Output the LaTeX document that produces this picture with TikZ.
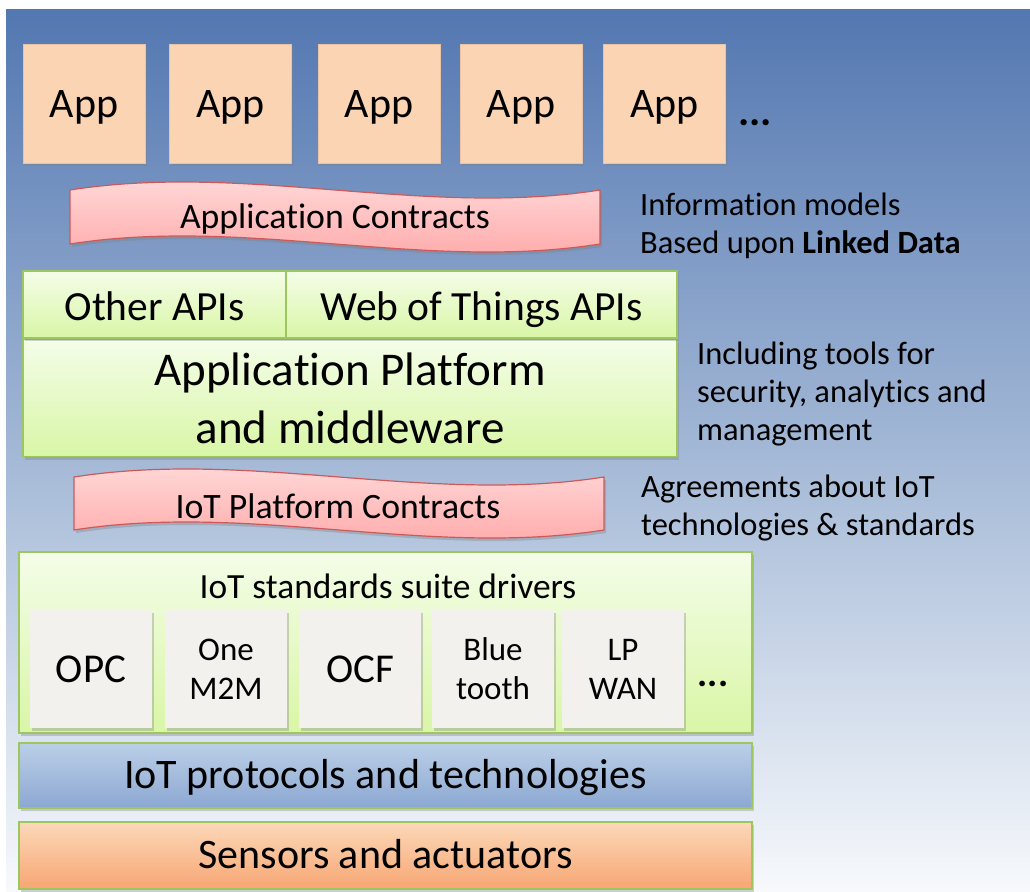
\documentclass[tikz,border=0pt]{standalone}
\usepackage{fontspec}
\setmainfont{Carlito}[Ligatures=NoCommon]
\usetikzlibrary{shadows}
\definecolor{bgtop}{HTML}{5377B1}
\definecolor{bgmid}{HTML}{A3B8D6}
\definecolor{bgbot}{HTML}{F7F9FC}
\definecolor{appfill}{HTML}{FBD4B4}
\definecolor{appline}{HTML}{E9C3A3}
\definecolor{gline}{HTML}{9CC760}
\definecolor{gtop}{HTML}{F4FDE8}
\definecolor{gbot}{HTML}{D9F6A6}
\definecolor{rline}{HTML}{CC5A5A}
\definecolor{rtop}{HTML}{FFE0E0}
\definecolor{rbot}{HTML}{FFA3A3}
\definecolor{stdfill}{HTML}{F3F1ED}
\definecolor{btop}{HTML}{BBCFE7}
\definecolor{bbot}{HTML}{8CA8D2}
\definecolor{otop}{HTML}{FCD8B9}
\definecolor{obot}{HTML}{F7A673}
\tikzset{
  shade/.style={drop shadow={opacity=0.35,shadow xshift=2pt,shadow yshift=-3pt}},
  appbox/.style={rectangle,draw=appline,line width=0.8pt,fill=appfill,shade,minimum width=122pt,minimum height=119pt,inner sep=0pt,text height=31pt,text depth=3pt,font=\fontsize{42}{46}\selectfont},
  greenbox/.style={rectangle,draw=gline,line width=1.5pt,top color=gtop,bottom color=gbot,shade,inner sep=0pt,align=center},
  apibox/.style={greenbox,minimum height=67pt,text height=33pt,text depth=2pt,font=\fontsize{41.5}{45}\selectfont},
  stdbox/.style={rectangle,fill=stdfill,shade,minimum width=122pt,minimum height=118pt,inner sep=0pt,align=center},
  bigstd/.style={font=\fontsize{41}{45}\selectfont},
  smallstd/.style={font=\fontsize{33}{39}\selectfont},
  layerbox/.style={rectangle,draw=gline,line width=1.5pt,shade,inner sep=0pt,minimum width=733pt,text height=28pt,text depth=3pt,font=\fontsize{42}{46}\selectfont},
  banner/.style={draw=rline,line width=1.2pt,top color=rtop,bottom color=rbot,shade},
  bannertext/.style={font=\fontsize{35.7}{40}\selectfont},
  note/.style={anchor=west,align=left,inner sep=0pt,font=\fontsize{32.5}{38}\selectfont},
  dots/.style={inner sep=0pt,font=\bfseries\fontsize{42}{46}\selectfont}
}
\begin{document}
\begin{tikzpicture}[x=1pt,y=-1pt]
\useasboundingbox (0,0) rectangle (1030,891);
\shade[top color=bgtop,bottom color=bgbot,middle color=bgmid] (6,10) rectangle (1030,891);
% apps
\node[appbox] (a1) at (84,103.5) {App};
\node[appbox] (a2) at (230.5,103.5) {App};
\node[appbox] (a3) at (379,103.5) {App};
\node[appbox] (a4) at (521,103.5) {App};
\node[appbox] (a5) at (664.5,103.5) {App};
\node[dots] (adots) at (755,123) {...};
% application contracts banner
\path[banner] (70,190) .. controls (246.7,162.3) and (423.3,217.7) .. (600,190)
  -- (600,244) .. controls (423.3,271.7) and (246.7,216.3) .. (70,244) -- cycle;
\node[bannertext] (ac) at (335,219) {Application Contracts};
\node[note] (info) at (640,226) {Information models\\Based upon \textbf{Linked Data}};
% platform
\node[greenbox,minimum width=654pt,minimum height=117pt,font=\fontsize{47}{58}\selectfont] (plat) at (350,398) {Application Platform\\and middleware};
\node[apibox,minimum width=263pt] (other) at (154.5,304.5) {Other APIs};
\node[apibox,minimum width=391pt] (wot) at (481.5,304.5) {Web of Things APIs};
\node[note] (incl) at (697,394) {Including tools for\\security, analytics and\\management};
% iot platform contracts banner
\path[banner] (74,477) .. controls (250.7,449.3) and (427.3,504.7) .. (604,477)
  -- (604,530) .. controls (427.3,557.7) and (250.7,502.3) .. (74,530) -- cycle;
\node[bannertext] (ipc) at (338,506) {IoT Platform Contracts};
\node[note] (agree) at (641,508) {Agreements about IoT\\technologies \& standards};
% standards suite
\node[greenbox,minimum width=733pt,minimum height=181pt] (suite) at (385.5,642.5) {};
\node[font=\fontsize{35.4}{40}\selectfont,inner sep=0pt] (suitet) at (388,586) {IoT standards suite drivers};
\node[stdbox,bigstd] (opc) at (91,669) {OPC};
\node[stdbox,smallstd] (m2m) at (226,669) {One\\M2M};
\node[stdbox,bigstd] (ocf) at (360,669) {OCF};
\node[stdbox,smallstd] (bt) at (493,669) {Blue\\tooth};
\node[stdbox,smallstd] (lp) at (623,669) {LP\\WAN};
\node[dots,font=\bfseries\fontsize{38}{42}\selectfont] (sdots) at (713,684) {...};
% layers
\node[layerbox,minimum height=65pt,top color=btop,bottom color=bbot] (proto) at (385.5,775.5) {IoT protocols and technologies};
\node[layerbox,minimum height=67pt,top color=otop,bottom color=obot] (sens) at (385.5,855.5) {Sensors and actuators};
\end{tikzpicture}
\end{document}
